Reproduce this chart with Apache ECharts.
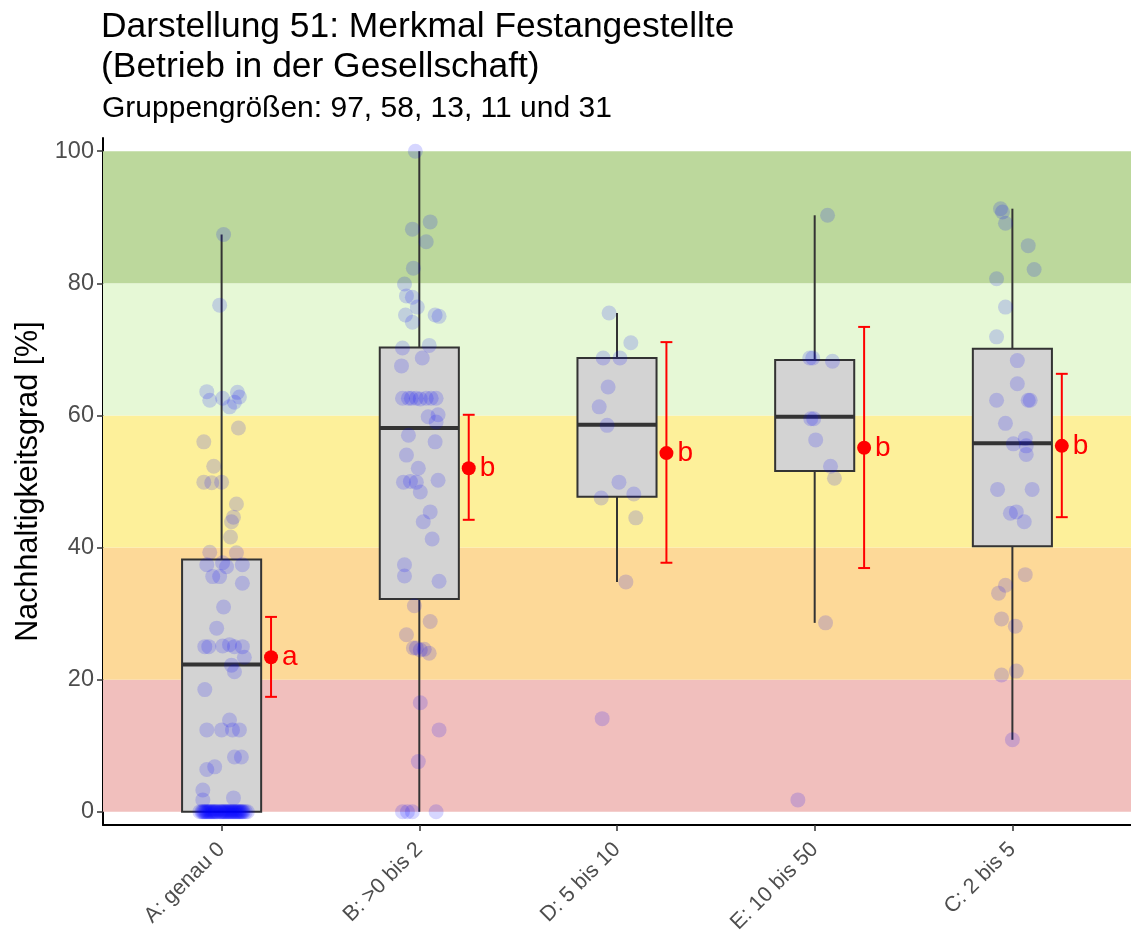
<!DOCTYPE html>
<html>
<head>
<meta charset="utf-8">
<title>Darstellung 51: Merkmal Festangestellte</title>
<script src="https://cdn.jsdelivr.net/npm/echarts@6/dist/echarts.min.js"></script>
<style>
  html, body { margin: 0; padding: 0; background: #ffffff; }
  #chart { width: 1131px; height: 938px; }
</style>
</head>
<body>
<div id="chart"></div>
<script>
// Groups (x order on the axis)
const categories = ['A: genau 0', 'B: >0 bis 2', 'D: 5 bis 10', 'E: 10 bis 50', 'C: 2 bis 5'];
const groupSizes = [97, 58, 13, 11, 31];

// Box plot statistics per group
const whiskerLow  = [0, 0, 34.8, 28.6, 10.9];
const q1          = [0, 32.2, 47.7, 51.6, 40.2];
const median      = [22.3, 58.1, 58.6, 59.8, 55.8];
const q3          = [38.2, 70.3, 68.7, 68.4, 70.1];
const whiskerHigh = [87.4, 100, 75.5, 90.3, 91.3];

// Group means with confidence interval and grouping letters
const means   = [23.4, 52.0, 54.3, 55.1, 55.4];
const ciLow   = [17.4, 44.2, 37.7, 36.9, 44.6];
const ciHigh  = [29.5, 60.1, 71.1, 73.4, 66.3];
const letters = ['a', 'b', 'b', 'b', 'b'];

// Rating bands on the y scale
const bandEdges  = [0, 20, 40, 60, 80, 100];
const bandColors = ['#f1bfbd', '#fdd998', '#fdf09a', '#e6f8d6', '#bcd89c'];
const yTicks = [0, 20, 40, 60, 80, 100];

// Individual observations: horizontal jitter and value
const jitterA = [0.01, -0.01, -0.075, -0.06, 0.005, 0.04, 0.08, 0.09, 0.065, 0.085, -0.09, -0.04,
  -0.09, -0.05, 0.0, 0.075, 0.06, 0.05, 0.045, -0.06, 0.075, -0.075, 0.005, 0.025, 0.105,
  -0.045, -0.01, 0.105, 0.01, -0.025, -0.085, -0.065, 0.005, 0.04, 0.065, 0.105, 0.115,
  0.05, 0.065, -0.085, -0.075, 0.0, 0.04, 0.055, 0.09, 0.065, 0.1, -0.075, -0.035,
  -0.095, -0.095, 0.06,
  -0.11, -0.1, -0.09, -0.085, -0.08, -0.07, -0.065, -0.06, -0.05, -0.045, -0.04, -0.03,
  -0.025, -0.02, -0.01, -0.005, 0.0, 0.005, 0.01, 0.02, 0.025, 0.03, 0.04, 0.045, 0.05,
  0.055, 0.06, 0.07, 0.075, 0.08, 0.09, 0.095, 0.1, 0.11, 0.12, 0.13, -0.095, -0.075,
  -0.035, 0.015, 0.035, 0.065, 0.085, 0.105, -0.055];
const valuesA = [87.4, 76.7, 63.6, 62.3, 62.6, 61.3, 63.5, 62.8, 62.0, 58.1, 56.0, 52.3,
  49.9, 49.8, 49.9, 46.6, 44.6, 43.9, 41.6, 39.3, 39.2, 37.4, 37.7, 37.1, 37.4,
  35.6, 35.6, 34.6, 31.0, 27.8, 25.0, 25.0, 25.1, 25.3, 25.0, 25.0, 23.4,
  22.2, 21.2, 18.5, 12.4, 12.4, 13.9, 12.4, 12.4, 8.3, 8.3, 6.4, 6.8,
  3.3, 1.8, 2.1,
  0, 0, 0, 0, 0, 0, 0, 0, 0, 0, 0, 0,
  0, 0, 0, 0, 0, 0, 0, 0, 0, 0, 0, 0, 0,
  0, 0, 0, 0, 0, 0, 0, 0, 0, 0, 0, 0, 0,
  0, 0, 0, 0, 0, 0, 0];

const jitterB = [-0.02, 0.055, -0.035, 0.035, -0.03, -0.075, -0.065, -0.035, -0.01, -0.07, -0.035,
  0.08, 0.1, -0.085, 0.05, -0.09, 0.015,
  -0.085, -0.055, -0.015, 0.005, 0.06, 0.085, -0.04, 0.035,
  0.045, 0.095, 0.085, -0.055, 0.08, -0.065, -0.005,
  -0.08, -0.015, 0.005, 0.095, -0.045, 0.055, 0.02, 0.065, -0.075, -0.075, 0.1, -0.025,
  0.055, -0.065, -0.03, 0.005, 0.05, -0.015, 0.025, 0.005, 0.1, -0.005,
  -0.085, -0.035, 0.085, -0.06];
const valuesB = [100, 89.3, 88.2, 86.3, 82.3, 79.9, 78.1, 77.9, 76.4, 75.2, 74.1,
  75.2, 75.0, 70.2, 70.6, 67.5, 68.7,
  62.6, 62.6, 62.6, 62.5, 62.6, 62.6, 62.6, 62.6,
  59.8, 60.1, 59.0, 57.0, 56.0, 54.0, 52.0,
  49.9, 49.9, 48.4, 50.2, 50.0, 45.4, 43.9, 41.3, 37.4, 35.7, 34.9, 31.2,
  28.8, 26.8, 24.8, 24.5, 24.0, 24.8, 24.6, 16.5, 12.4, 7.6,
  0, 0, 0, 0];

const jitterD = [-0.04, 0.07, -0.07, 0.015, -0.045, -0.09, -0.05, 0.01, -0.08, 0.085, 0.095, 0.045, -0.075];
const valuesD = [75.5, 71.0, 68.7, 68.7, 64.3, 61.3, 58.5, 49.9, 47.5, 48.1, 44.5, 34.8, 14.1];

const jitterE = [0.065, -0.025, -0.01, 0.09, -0.02, -0.005, 0.005, 0.08, 0.1, 0.055, -0.085];
const valuesE = [90.3, 68.7, 68.7, 68.2, 59.5, 59.5, 56.3, 52.3, 50.5, 28.6, 1.8];

const jitterC = [-0.06, -0.05, -0.035, 0.08, 0.11, -0.08, -0.035, -0.08, 0.025, 0.025,
  -0.08, 0.08, 0.09, -0.035, 0.005, 0.065, 0.07, 0.07, -0.075, 0.1,
  -0.01, 0.02, 0.06, 0.065, -0.035, -0.07, -0.055, 0.015, -0.055, 0.02, 0.0];
const valuesC = [91.3, 90.8, 89.1, 85.7, 82.1, 80.7, 76.4, 71.9, 68.3, 64.8,
  62.3, 62.3, 62.3, 58.8, 55.7, 56.5, 55.4, 54.1, 48.8, 48.8,
  45.2, 45.4, 43.9, 35.9, 34.3, 33.1, 29.2, 28.1, 20.7, 21.3, 10.9];

const jitters = [jitterA, jitterB, jitterD, jitterE, jitterC];
const values  = [valuesA, valuesB, valuesD, valuesE, valuesC];

// ---------------------------------------------------------------
const FONT = '"Liberation Sans", Arial, sans-serif';
const BOX_HALF = 0.2;     // half box width in category units
const MEAN_SHIFT = 0.25;  // mean/CI marker offset to the right of the box
const CAP_HALF = 0.03;    // half width of the CI caps

const boxData = categories.map((c, i) => [i, whiskerLow[i], q1[i], median[i], q3[i], whiskerHigh[i]]);
const ciData = categories.map((c, i) => [i + MEAN_SHIFT, ciLow[i], ciHigh[i]]);
const meanData = categories.map((c, i) => ({ value: [i + MEAN_SHIFT, means[i]], letter: letters[i] }));

const pointData = [];
values.forEach((vals, g) => {
  vals.forEach((v, k) => pointData.push([g + jitters[g][k], v]));
});

const bands = bandColors.map((col, i) => [
  { yAxis: bandEdges[i], itemStyle: { color: col } },
  { yAxis: bandEdges[i + 1] }
]);

function renderBox(params, api) {
  const i = api.value(0);
  const pLo = api.coord([i, api.value(1)]);
  const pQ1 = api.coord([i, api.value(2)]);
  const pMed = api.coord([i, api.value(3)]);
  const pQ3 = api.coord([i, api.value(4)]);
  const pHi = api.coord([i, api.value(5)]);
  const xl = api.coord([i - BOX_HALF, 0])[0];
  const xr = api.coord([i + BOX_HALF, 0])[0];
  const stroke = '#333333';
  return {
    type: 'group',
    children: [
      { type: 'line', shape: { x1: pHi[0], y1: pHi[1], x2: pQ3[0], y2: pQ3[1] },
        style: { stroke: stroke, lineWidth: 2 } },
      { type: 'line', shape: { x1: pLo[0], y1: pLo[1], x2: pQ1[0], y2: pQ1[1] },
        style: { stroke: stroke, lineWidth: 2 } },
      { type: 'rect', shape: { x: xl, y: pQ3[1], width: xr - xl, height: pQ1[1] - pQ3[1] },
        style: { fill: '#d3d3d3', stroke: stroke, lineWidth: 2 } },
      { type: 'line', shape: { x1: xl, y1: pMed[1], x2: xr, y2: pMed[1] },
        style: { stroke: stroke, lineWidth: 4 } }
    ]
  };
}

function renderCI(params, api) {
  const x = api.value(0);
  const lo = api.coord([x, api.value(1)]);
  const hi = api.coord([x, api.value(2)]);
  const cl = api.coord([x - CAP_HALF, 0])[0];
  const cr = api.coord([x + CAP_HALF, 0])[0];
  const st = { stroke: '#ff0000', lineWidth: 2 };
  return {
    type: 'group',
    children: [
      { type: 'line', shape: { x1: lo[0], y1: lo[1], x2: hi[0], y2: hi[1] }, style: st },
      { type: 'line', shape: { x1: cl, y1: lo[1], x2: cr, y2: lo[1] }, style: st },
      { type: 'line', shape: { x1: cl, y1: hi[1], x2: cr, y2: hi[1] }, style: st }
    ]
  };
}

const chart = echarts.init(document.getElementById('chart'), null, { renderer: 'canvas' });

const option = {
  backgroundColor: '#ffffff',
  animation: false,
  textStyle: { fontFamily: FONT },
  title: [
    {
      text: 'Darstellung 51: Merkmal Festangestellte\n(Betrieb in der Gesellschaft)',
      left: 101, top: 7, padding: 0,
      textStyle: { fontSize: 35.4, fontWeight: 'normal', color: '#000000', lineHeight: 40, fontFamily: FONT }
    },
    {
      text: 'Gruppengrößen: ' + groupSizes.slice(0, 4).join(', ') + ' und ' + groupSizes[4],
      left: 102, top: 94, padding: 0,
      textStyle: { fontSize: 30, fontWeight: 'normal', color: '#000000', fontFamily: FONT }
    }
  ],
  grid: { left: 103, right: -9, top: 138, bottom: 113, containLabel: false },
  xAxis: {
    type: 'value',
    min: -0.6, max: 4.6,
    splitLine: { show: false },
    axisLine: { show: true, onZero: false, lineStyle: { color: '#000000', width: 2 } },
    axisTick: { show: true, customValues: [0, 1, 2, 3, 4], length: 6,
      lineStyle: { color: '#333333', width: 1.5 } },
    axisLabel: {
      customValues: [0, 1, 2, 3, 4],
      formatter: v => categories[Math.round(v)],
      rotate: 45, margin: 21, fontSize: 21.5, color: '#4d4d4d', fontFamily: FONT
    }
  },
  yAxis: {
    type: 'value',
    min: -2, max: 102,
    name: 'Nachhaltigkeitsgrad [%]',
    nameLocation: 'middle',
    nameGap: 58,
    nameTextStyle: { fontSize: 30.5, color: '#000000', fontFamily: FONT },
    splitLine: { show: false },
    axisLine: { show: true, onZero: false, lineStyle: { color: '#000000', width: 2 } },
    axisTick: { show: true, customValues: yTicks, length: 6, lineStyle: { color: '#333333', width: 1.5 } },
    axisLabel: { customValues: yTicks, fontSize: 23.5, color: '#4d4d4d', margin: 9, fontFamily: FONT }
  },
  series: [
    {
      name: 'Bewertungsbereiche',
      type: 'scatter',
      data: [],
      silent: true,
      z: 1,
      markArea: { silent: true, itemStyle: { opacity: 1 }, data: bands }
    },
    {
      name: 'Boxplot',
      type: 'custom',
      renderItem: renderBox,
      data: boxData,
      encode: { x: 0, y: [1, 2, 3, 4, 5] },
      z: 2
    },
    {
      name: 'Einzelwerte',
      type: 'scatter',
      data: pointData,
      symbol: 'circle',
      symbolSize: 15,
      itemStyle: { color: 'rgba(0, 0, 255, 0.2)' },
      z: 3
    },
    {
      name: 'Konfidenzintervall',
      type: 'custom',
      renderItem: renderCI,
      data: ciData,
      encode: { x: 0, y: [1, 2] },
      z: 4
    },
    {
      name: 'Mittelwert',
      type: 'scatter',
      data: meanData,
      symbol: 'circle',
      symbolSize: 14,
      itemStyle: { color: '#ff0000', opacity: 1 },
      label: {
        show: true, position: 'right', distance: 4,
        formatter: p => p.data.letter,
        fontSize: 28, color: '#ff0000', fontFamily: FONT
      },
      z: 5
    }
  ]
};

chart.setOption(option);
</script>
</body>
</html>
